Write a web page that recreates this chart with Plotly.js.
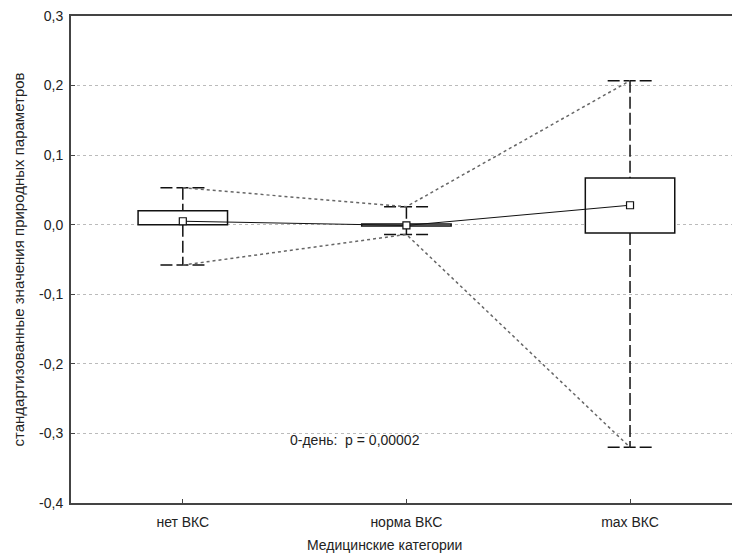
<!DOCTYPE html>
<html>
<head>
<meta charset="utf-8">
<script src="https://cdn.plot.ly/plotly-3.0.1.min.js"></script>
<style>html,body{margin:0;padding:0;background:#fff;}#chart{width:732px;height:555px;}</style>
</head>
<body>
<div id="chart"></div>
<script>
// Data
const categories = ["нет ВКС", "норма ВКС", "max ВКС"];
const means      = [0.005, -0.001, 0.028];
const boxHigh    = [0.020, 0.001, 0.067];
const boxLow     = [0.000, -0.002, -0.012];
const whiskHigh  = [0.053, 0.026, 0.207];
const whiskLow   = [-0.058, -0.014, -0.320];
const yTickVals  = [-0.4, -0.3, -0.2, -0.1, 0.0, 0.1, 0.2, 0.3];
const yTickText  = ["-0,4", "-0,3", "-0,2", "-0,1", "0,0", "0,1", "0,2", "0,3"];
const xTitle = "Медицинские категории";
const yTitle = "стандартизованные значения природных параметров";
const note = "0-день:  p = 0,00002";

const idx = categories.map((c, i) => i);
const boxWidth = 0.4;
const capHalf = 0.1;

// whisker segments (outside the box) and caps
const wx = [], wy = [], cx = [], cy = [];
idx.forEach(i => {
  wx.push(i, i, null, i, i, null);
  wy.push(whiskHigh[i], boxHigh[i], null, boxLow[i], whiskLow[i], null);
  cx.push(i - capHalf, i + capHalf, null, i - capHalf, i + capHalf, null);
  cy.push(whiskHigh[i], whiskHigh[i], null, whiskLow[i], whiskLow[i], null);
});

const textFont = {family: "Liberation Sans, Arial, sans-serif", size: 14, color: "#222"};
const yTitleFont = {family: "Liberation Sans, Arial, sans-serif", size: 15, color: "#222"};

const data = [
  {
    type: "bar", x: idx, y: boxHigh.map((h, i) => h - boxLow[i]), base: boxLow,
    width: boxWidth, marker: {color: "#fff", line: {color: "#111", width: 1.5}},
    hoverinfo: "skip", showlegend: false
  },
  {
    type: "scatter", mode: "lines", x: wx, y: wy,
    line: {color: "#111", width: 1.5, dash: "12px,4px"}, showlegend: false, hoverinfo: "skip"
  },
  {
    type: "scatter", mode: "lines", x: cx, y: cy,
    line: {color: "#111", width: 1.5, dash: "12px,4px"}, showlegend: false, hoverinfo: "skip"
  },
  {
    type: "scatter", mode: "lines", x: idx, y: whiskHigh,
    line: {color: "#666", width: 1.5, dash: "dot"}, showlegend: false, hoverinfo: "skip"
  },
  {
    type: "scatter", mode: "lines", x: idx, y: whiskLow,
    line: {color: "#666", width: 1.5, dash: "dot"}, showlegend: false, hoverinfo: "skip"
  },
  {
    type: "scatter", mode: "lines+markers", x: idx, y: means,
    line: {color: "#111", width: 1},
    marker: {symbol: "square", size: 7, color: "#fff", line: {color: "#111", width: 1.2}},
    showlegend: false
  }
];

const layout = {
  width: 732, height: 555,
  margin: {l: 71, r: 0, t: 16, b: 52},
  paper_bgcolor: "#fff", plot_bgcolor: "#fff",
  font: textFont,
  bargap: 0,
  xaxis: {
    range: [-0.5, 2.456], tickvals: idx, ticktext: categories,
    showgrid: false, zeroline: false,
    showline: true, linecolor: "#444", linewidth: 2, mirror: true,
    ticks: "inside", ticklen: 4, tickcolor: "#444",
    ticklabelstandoff: 5, tickfont: textFont
  },
  yaxis: {
    range: [-0.4, 0.3], tickvals: yTickVals, ticktext: yTickText,
    showgrid: true, gridcolor: "#bbb", griddash: "dot", gridwidth: 1,
    zeroline: false,
    showline: true, linecolor: "#444", linewidth: 2,
    ticks: "inside", ticklen: 4, tickcolor: "#444",
    ticklabelstandoff: 3, tickfont: textFont
  },
  annotations: [
    {text: note, xref: "x", yref: "y", x: 0.77, y: -0.31, showarrow: false, font: textFont},
    {text: xTitle, xref: "paper", yref: "paper", x: 0.475, xanchor: "center", y: 0, yshift: -42, yanchor: "middle", showarrow: false, font: textFont},
    {text: yTitle, xref: "paper", yref: "paper", x: 0, xshift: -53, xanchor: "center", y: 0.5, yanchor: "middle", textangle: -90, showarrow: false, font: yTitleFont}
  ]
};

Plotly.newPlot("chart", data, layout, {displayModeBar: false, staticPlot: true});
</script>
</body>
</html>
